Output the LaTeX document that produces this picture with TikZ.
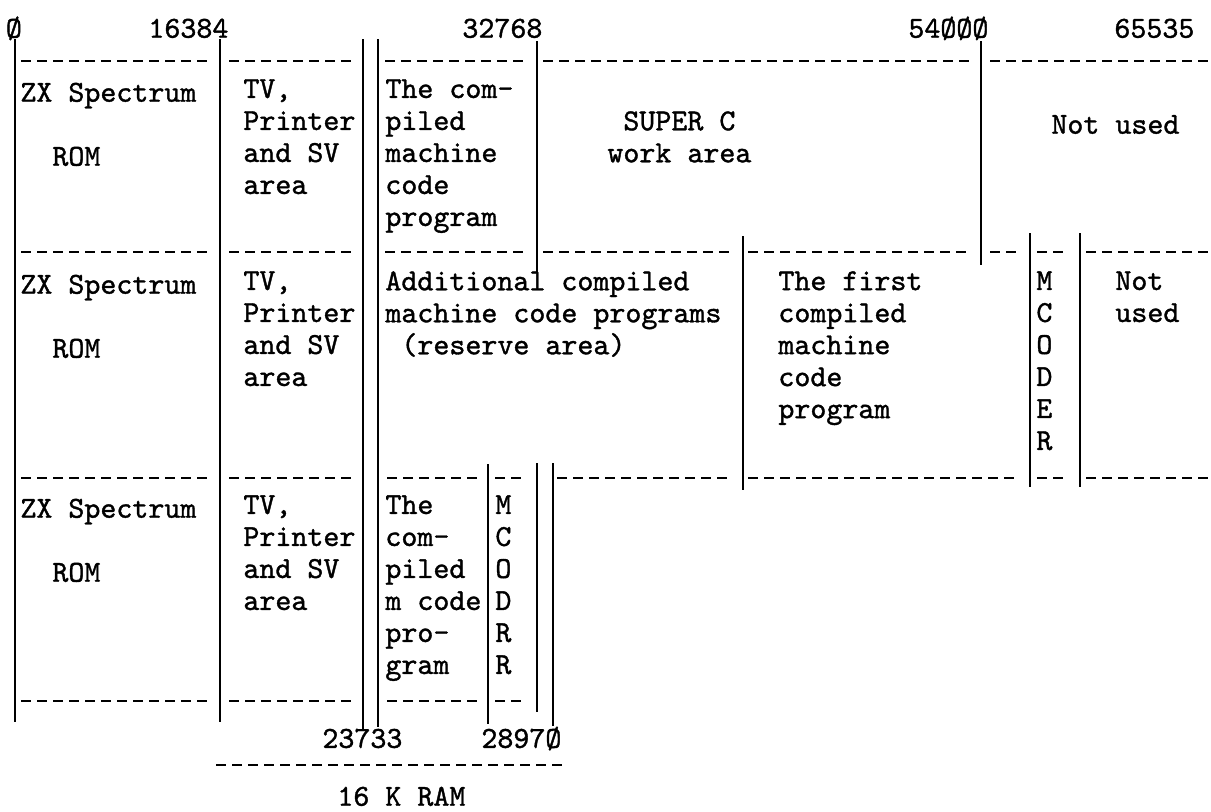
\documentclass[tikz,border=0pt]{standalone}
\usepackage{fontspec}
\newfontfamily\typewriter{lmmono10-regular}[Extension=.otf,FakeBold=1.2]
\usetikzlibrary{positioning}

\begin{document}
\begin{tikzpicture}[
  x=0.5pt,y=-0.5pt,
  txt/.style={font=\typewriter\fontsize{15.24}{16}\selectfont,inner sep=0pt,anchor=north west,align=left,execute at begin node=\strut},
  rule/.style={line width=1pt},
  typed/.style={line width=1.1pt,dash pattern=on 5pt off 3pt}
]
  \useasboundingbox (0,0) rectangle (1211,811);

  \node[txt] (a0) at (5.5,14.9) {Ø};
  \node[txt] (a16384) at (148,14.9) {16384};
  \node[txt] (a32768) at (462,14.9) {32768};
  \node[txt] (a54000) at (908,14.9) {54ØØØ};
  \node[txt] (a65535) at (1114,14.9) {65535};

  \node[txt] (zx1) at (20,78.9) {ZX Spectrum};
  \node[txt] (rom1) at (52,142.9) {ROM};
  \node[txt] (tv1) at (243,78.9) {TV,\\Printer\\and SV\\area};
  \node[txt] (prog1) at (385,78.9) {The com-\\piled\\machine\\code\\program};
  \node[txt] (work) at (607,110.9) {\phantom{x}SUPER C\\work area};
  \node[txt] (free1) at (1051,110.9) {Not used};

  \node[txt] (zx2) at (20,270.9) {ZX Spectrum};
  \node[txt] (rom2) at (52,334.9) {ROM};
  \node[txt] (tv2) at (243,270.9) {TV,\\Printer\\and SV\\area};
  \node[txt] (reserve) at (385,270.9) {Additional compiled\\machine code programs\\\phantom{x}(reserve area)};
  \node[txt] (first) at (778,270.9) {The first\\compiled\\machine\\code\\program};
  \node[txt] (mcoder) at (1036,270.9) {M\\C\\O\\D\\E\\R};
  \node[txt] (free2) at (1115,270.9) {Not\\used};

  \node[txt] (zx3) at (20,494.9) {ZX Spectrum};
  \node[txt] (rom3) at (52,558.9) {ROM};
  \node[txt] (tv3) at (243,494.9) {TV,\\Printer\\and SV\\area};
  \node[txt] (prog3) at (385,494.9) {The\\com-\\piled\\m code\\pro-\\gram};
  \node[txt] (mcodrr) at (495,494.9) {M\\C\\O\\D\\R\\R};

  \node[txt] (a23733) at (322,725) {23733};
  \node[txt] (a28970) at (481,725) {2897Ø};
  \node[txt] (ram) at (337,782.9) {16 K RAM};

  \draw[rule] (15,39) -- (15,722);
  \draw[rule] (220,39) -- (220,722);
  \draw[rule] (363,39) -- (363,730);
  \draw[rule] (378,39) -- (378,727);
  \draw[rule] (537,41) -- (537,272);
  \draw[rule] (743,236) -- (743,490);
  \draw[rule] (981,41) -- (981,265);
  \draw[rule] (1030,233) -- (1030,487);
  \draw[rule] (1080,233) -- (1080,487);
  \draw[rule] (488,464) -- (488,724);
  \draw[rule] (537,463) -- (537,712);
  \draw[rule] (553,463) -- (553,726);

  \draw[typed] (21,61) -- (211,61) (229,61) -- (351,61) (385,61) -- (523,61)
    (543,61) -- (969,61) (990,61) -- (1208,61);
  \draw[typed] (21,252) -- (211,252) (229,252) -- (351,252) (385,252) -- (523,252)
    (543,252) -- (729,252) (748,252) -- (966,252) (990,252) -- (1016,252)
    (1037,252) -- (1063,252) (1086,252) -- (1208,252);
  \draw[typed] (21,478) -- (211,478) (229,478) -- (351,478) (387,478) -- (477,478)
    (495,478) -- (521,478) (557,478) -- (727,478) (748,478) -- (1014,478)
    (1037,478) -- (1063,478) (1086,478) -- (1208,478);
  \draw[typed] (21,701) -- (211,701) (229,701) -- (351,701) (387,701) -- (477,701)
    (495,701) -- (521,701);
  \draw[typed] (216,765) -- (562,765);
\end{tikzpicture}
\end{document}
